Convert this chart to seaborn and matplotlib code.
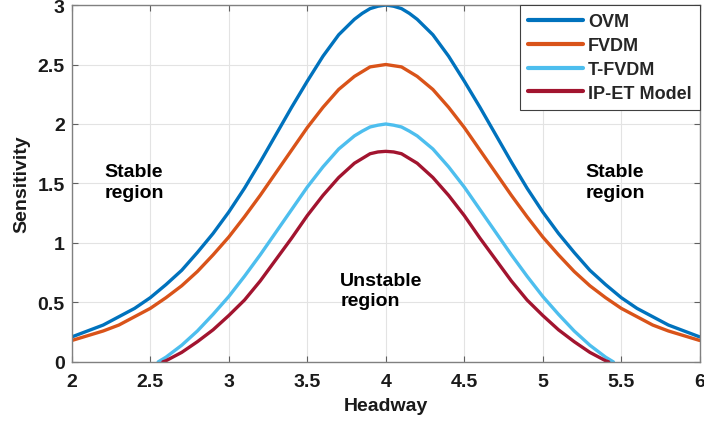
import numpy as np
import pandas as pd
import matplotlib
matplotlib.use("Agg")
import matplotlib.pyplot as plt
import seaborn as sns

# --------------- data --------------- #
headway = [2.0, 2.1, 2.2, 2.3, 2.4, 2.5, 2.6, 2.7, 2.8, 2.9,
           3.0, 3.1, 3.2, 3.3, 3.4, 3.5, 3.6, 3.7, 3.8, 3.85, 3.9, 3.95,
           4.0,
           4.05, 4.1, 4.15, 4.2, 4.3, 4.4, 4.5, 4.6, 4.7, 4.8, 4.9, 5.0,
           5.1, 5.2, 5.3, 5.4, 5.5, 5.6, 5.7, 5.8, 5.9, 6.0]

ovm = [0.21, 0.26, 0.31, 0.38, 0.45, 0.54, 0.65, 0.77, 0.92, 1.08,
       1.26, 1.46, 1.68, 1.91, 2.14, 2.36, 2.57, 2.75, 2.88, 2.93, 2.97, 2.99,
       3.00,
       2.99, 2.97, 2.93, 2.88, 2.75, 2.57, 2.36, 2.14, 1.91, 1.68, 1.46, 1.26,
       1.08, 0.92, 0.77, 0.65, 0.54, 0.45, 0.38, 0.31, 0.26, 0.21]

fvdm = [0.18, 0.22, 0.26, 0.31, 0.38, 0.45, 0.54, 0.64, 0.76, 0.90,
        1.05, 1.22, 1.40, 1.59, 1.78, 1.97, 2.14, 2.29, 2.40, 2.44, 2.48, 2.49,
        2.50,
        2.49, 2.48, 2.44, 2.40, 2.29, 2.14, 1.97, 1.78, 1.59, 1.40, 1.22, 1.05,
        0.90, 0.76, 0.64, 0.54, 0.45, 0.38, 0.31, 0.26, 0.22, 0.18]

tfvdm_x = [2.55, 2.6, 2.7, 2.8, 2.9, 3.0, 3.1, 3.2, 3.3, 3.4, 3.5, 3.6, 3.7,
           3.8, 3.85, 3.9, 3.95, 4.0, 4.05, 4.1, 4.15, 4.2, 4.3, 4.4, 4.5,
           4.6, 4.7, 4.8, 4.9, 5.0, 5.1, 5.2, 5.3, 5.4, 5.45]
tfvdm = [0.00, 0.04, 0.14, 0.26, 0.40, 0.55, 0.72, 0.90, 1.09, 1.28, 1.47,
         1.64, 1.79, 1.90, 1.94, 1.975, 1.99, 2.00, 1.99, 1.975, 1.94, 1.90,
         1.79, 1.64, 1.47, 1.28, 1.09, 0.90, 0.72, 0.55, 0.40, 0.26, 0.14,
         0.04, 0.00]

ipet_x = [2.58, 2.6, 2.7, 2.8, 2.9, 3.0, 3.1, 3.2, 3.3, 3.4, 3.5, 3.6, 3.7,
          3.8, 3.85, 3.9, 3.95, 4.0, 4.05, 4.1, 4.15, 4.2, 4.3, 4.4, 4.5,
          4.6, 4.7, 4.8, 4.9, 5.0, 5.1, 5.2, 5.3, 5.4, 5.42]
ipet = [0.00, 0.01, 0.08, 0.17, 0.27, 0.39, 0.52, 0.68, 0.86, 1.04, 1.23,
        1.40, 1.55, 1.67, 1.71, 1.75, 1.765, 1.77, 1.765, 1.75, 1.71, 1.67,
        1.55, 1.40, 1.23, 1.04, 0.86, 0.68, 0.52, 0.39, 0.27, 0.17, 0.08,
        0.01, 0.00]

labels = ["OVM", "FVDM", "T-FVDM", "IP-ET Model"]
colors = ["#0072BD", "#D95319", "#4DBEEE", "#A2142F"]

df = pd.concat([
    pd.DataFrame({"Headway": headway, "Sensitivity": ovm, "model": labels[0]}),
    pd.DataFrame({"Headway": headway, "Sensitivity": fvdm, "model": labels[1]}),
    pd.DataFrame({"Headway": tfvdm_x, "Sensitivity": tfvdm, "model": labels[2]}),
    pd.DataFrame({"Headway": ipet_x, "Sensitivity": ipet, "model": labels[3]}),
], ignore_index=True)

# --------------- plot --------------- #
sns.set_theme(style="whitegrid")
plt.rcParams["font.family"] = ["Liberation Sans", "DejaVu Sans"]
plt.rcParams["font.weight"] = "bold"

fig = plt.figure(figsize=(7.04, 4.31), dpi=100)
ax = fig.add_axes([0.102, 0.158, 0.892, 0.828])

sns.lineplot(data=df, x="Headway", y="Sensitivity", hue="model",
             palette=dict(zip(labels, colors)), hue_order=labels,
             estimator=None, sort=False, linewidth=2.4, ax=ax)

ax.set_xlim(2, 6)
ax.set_ylim(0, 3)
ax.set_xticks([2, 2.5, 3, 3.5, 4, 4.5, 5, 5.5, 6])
ax.set_xticklabels(["2", "2.5", "3", "3.5", "4", "4.5", "5", "5.5", "6"])
ax.set_yticks([0, 0.5, 1, 1.5, 2, 2.5, 3])
ax.set_yticklabels(["0", "0.5", "1", "1.5", "2", "2.5", "3"])

ax.grid(True, color="#e3e3e3", linewidth=0.8)
for s in ax.spines.values():
    s.set_color("#808080")
    s.set_linewidth(1.0)
ax.tick_params(direction="in", length=4, width=0.8, color="#606060",
               top=True, right=True, bottom=True, left=True,
               labelsize=14, labelcolor="#1a1a1a")
ax.tick_params(axis="x", pad=8)
ax.tick_params(axis="y", pad=5)
for t in ax.get_xticklabels() + ax.get_yticklabels():
    t.set_fontweight("bold")

ax.set_xlabel("Headway", fontsize=14, fontweight="bold", color="#1a1a1a", labelpad=5)
ax.set_ylabel("Sensitivity", fontsize=14, fontweight="bold", color="#1a1a1a", labelpad=5)

txt = dict(fontsize=14, fontweight="bold", color="black", ha="left",
           va="center", linespacing=1.3)
ax.text(2.21, 1.51, "Stable\nregion", **txt)
ax.text(5.27, 1.51, "Stable\nregion", **txt)
ax.text(3.71, 0.60, "Unstable\nregion", **txt)

leg = ax.legend(loc="upper right", borderaxespad=0.0, fancybox=False,
                framealpha=1, edgecolor="#404040", fontsize=13,
                handlelength=3.0, handletextpad=0.3, labelspacing=0.38,
                borderpad=0.45)
leg.get_frame().set_linewidth(0.8)
for t in leg.get_texts():
    t.set_fontweight("bold")
for h in leg.get_lines():
    h.set_linewidth(3.0)

fig.savefig("out.png", dpi=100)
